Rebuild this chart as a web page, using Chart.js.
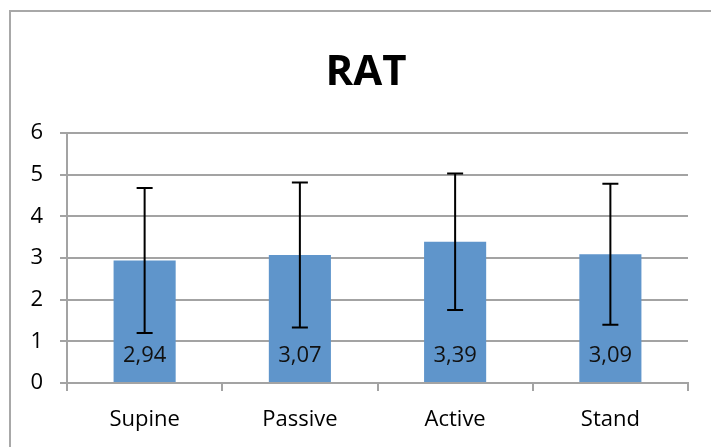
<!DOCTYPE html>
<html>
<head>
<meta charset="utf-8">
<script src="https://cdn.jsdelivr.net/npm/chart.js@4.4.0/dist/chart.umd.min.js"></script>
<style>
  html, body { margin: 0; padding: 0; background: #fff; }
  #wrap { width: 711px; height: 447px; position: relative; }
</style>
</head>
<body>
<div id="wrap"><canvas id="grafico" width="711" height="447"></canvas></div>
<script>
// datos del grafico
var titulo = 'RAT';
var posiciones = ['Supine', 'Passive', 'Active', 'Stand'];
var medias = [2.94, 3.07, 3.39, 3.09];
var desviaciones = [1.74, 1.74, 1.64, 1.69];
var ticksY = [0, 1, 2, 3, 4, 5, 6];

var fuente = '"Open Sans", Lato, sans-serif';
var gris = '#a3a3a3';

// marco exterior y titulo
var marco = {
  id: 'marco',
  beforeDraw: function (chart) {
    var ctx = chart.ctx;
    ctx.save();
    ctx.strokeStyle = '#a8a8a8';
    ctx.lineWidth = 2;
    ctx.strokeRect(10, 11, 760, 500);
    ctx.fillStyle = '#000';
    ctx.font = 'bold 42px ' + fuente;
    ctx.textAlign = 'center';
    ctx.textBaseline = 'alphabetic';
    ctx.fillText(titulo, 366, 85);
    ctx.restore();
  }
};

// barras de error y etiquetas de valor
var errores = {
  id: 'errores',
  afterDatasetsDraw: function (chart) {
    var ctx = chart.ctx;
    var y = chart.scales.y;
    var meta = chart.getDatasetMeta(0);
    ctx.save();
    meta.data.forEach(function (barra, i) {
      var x = barra.x;
      var arriba = y.getPixelForValue(medias[i] + desviaciones[i]);
      var abajo = y.getPixelForValue(medias[i] - desviaciones[i]);
      ctx.strokeStyle = '#000';
      ctx.lineWidth = 2;
      ctx.beginPath();
      ctx.moveTo(x, arriba); ctx.lineTo(x, abajo);
      ctx.moveTo(x - 8, arriba); ctx.lineTo(x + 8, arriba);
      ctx.moveTo(x - 8, abajo); ctx.lineTo(x + 8, abajo);
      ctx.stroke();
    });
    ctx.fillStyle = '#111';
    ctx.font = '22px ' + fuente;
    ctx.textAlign = 'center';
    ctx.textBaseline = 'middle';
    meta.data.forEach(function (barra, i) {
      var base = y.getPixelForValue(0);
      ctx.fillText(medias[i].toFixed(2).replace('.', ','), barra.x, base - 27);
    });
    ctx.restore();
  }
};

new Chart(document.getElementById('grafico').getContext('2d'), {
  type: 'bar',
  data: {
    labels: posiciones,
    datasets: [{
      data: medias,
      backgroundColor: '#5f95cb',
      borderWidth: 0,
      categoryPercentage: 1,
      barPercentage: 0.4
    }]
  },
  options: {
    responsive: false,
    animation: false,
    layout: { padding: { left: 0, right: 23, top: 133, bottom: 0 } },
    plugins: {
      legend: { display: false },
      tooltip: { enabled: false },
      title: { display: false }
    },
    scales: {
      x: {
        grid: {
          drawOnChartArea: false,
          drawTicks: true,
          tickLength: 8,
          color: gris,
          lineWidth: 2,
          offset: true
        },
        border: { color: gris, width: 2 },
        ticks: {
          color: '#000',
          padding: 16,
          font: { family: fuente, size: 22 }
        },
        afterFit: function (escala) { escala.height = 64; }
      },
      y: {
        min: 0,
        max: 6,
        afterBuildTicks: function (escala) {
          escala.ticks = ticksY.map(function (v) { return { value: v }; });
        },
        grid: {
          color: gris,
          lineWidth: 2,
          tickLength: 7
        },
        border: { color: gris, width: 2 },
        ticks: {
          color: '#000',
          padding: 17,
          font: { family: fuente, size: 22 }
        },
        afterFit: function (escala) { escala.width = 67; }
      }
    }
  },
  plugins: [marco, errores]
});
</script>
</body>
</html>
